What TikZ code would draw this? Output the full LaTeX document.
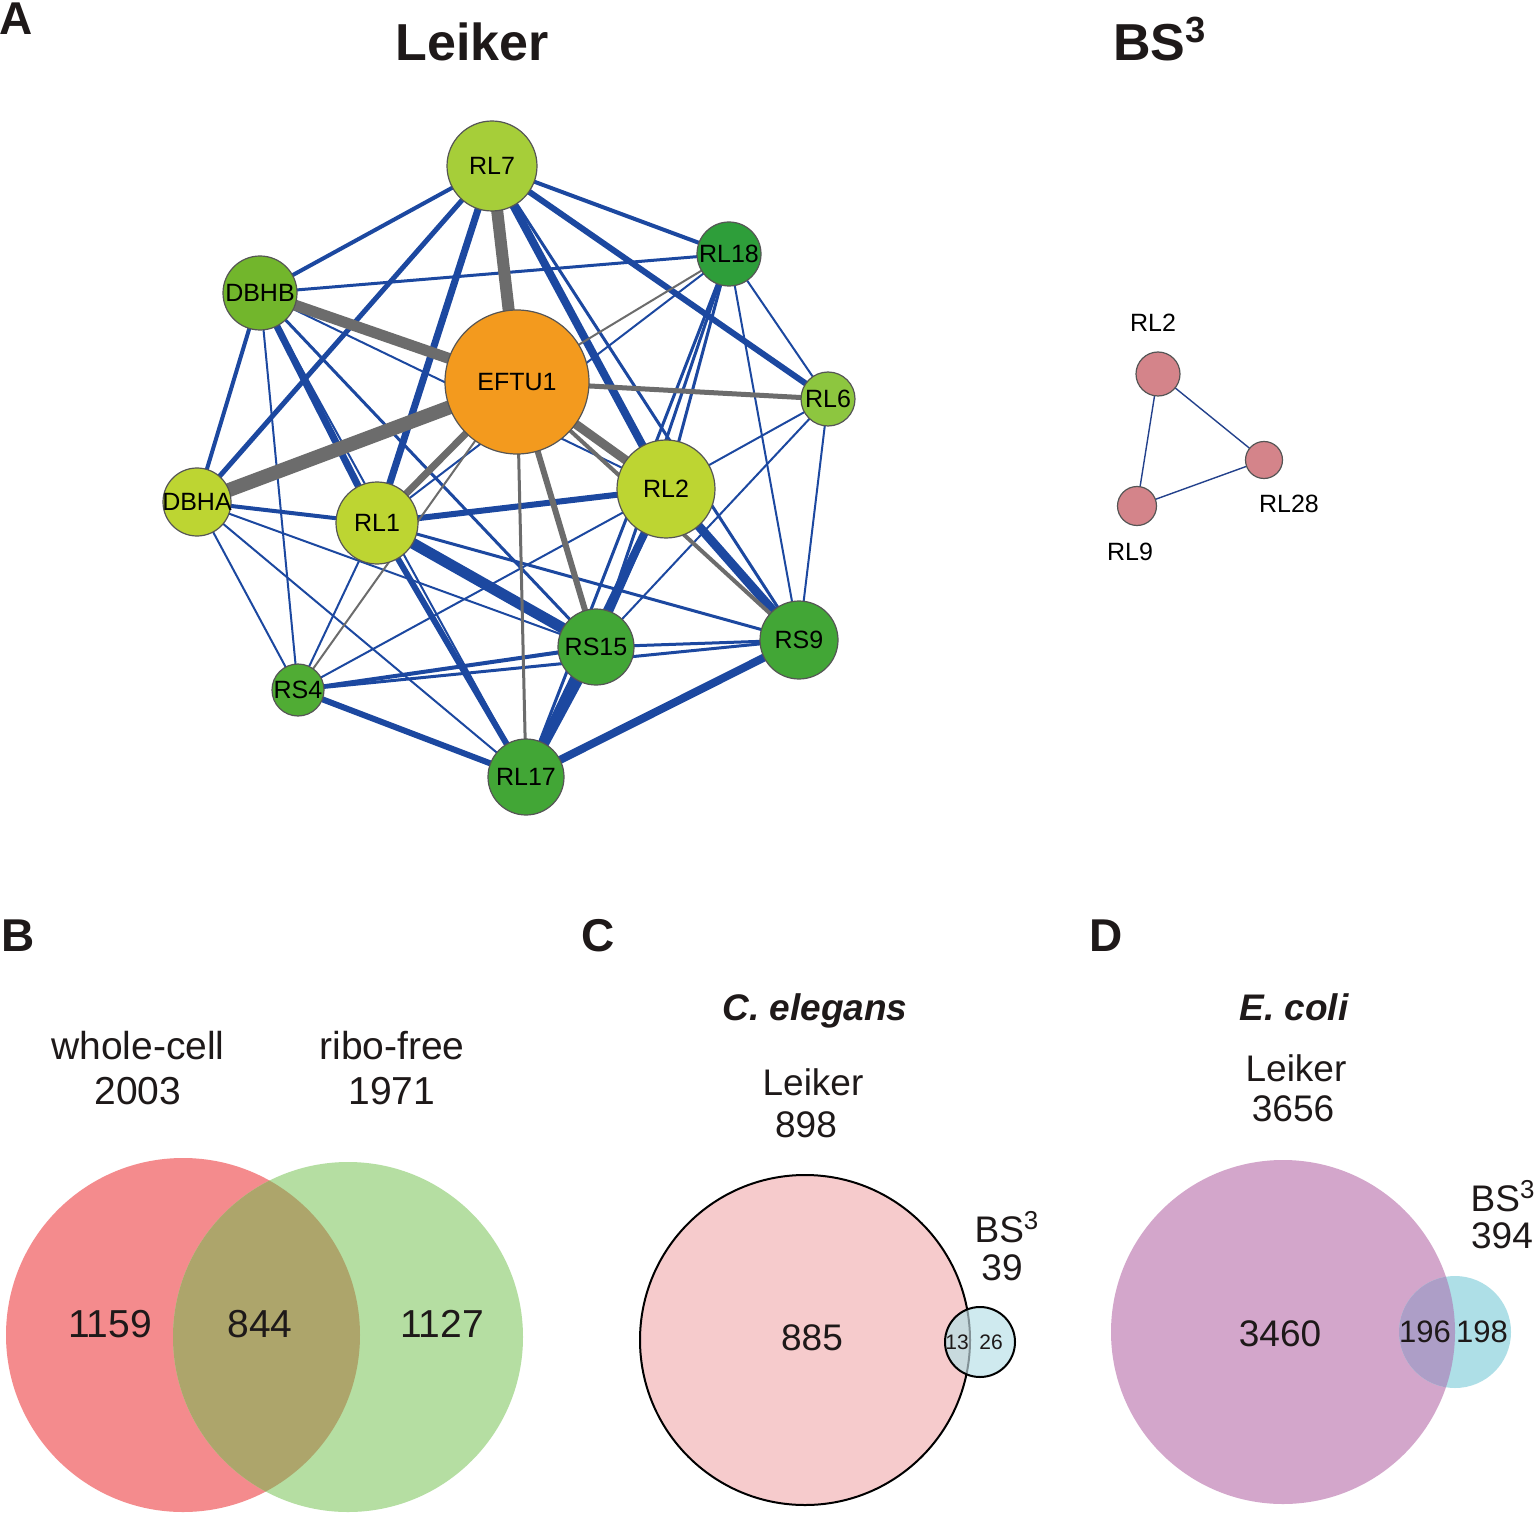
\documentclass[tikz,border=0pt]{standalone}
\usepackage{fontspec}
\setmainfont{Liberation Sans}
\usetikzlibrary{backgrounds}
\definecolor{eblue}{RGB}{28,72,160}
\definecolor{egray}{RGB}{108,108,108}
\definecolor{ndline}{RGB}{85,85,85}
\definecolor{cyg}{RGB}{166,206,57}
\definecolor{cmg}{RGB}{114,182,44}
\definecolor{corg}{RGB}{243,154,30}
\definecolor{cdg}{RGB}{46,158,58}
\definecolor{clg}{RGB}{141,198,63}
\definecolor{cyl}{RGB}{189,213,50}
\definecolor{cgr}{RGB}{66,166,54}
\definecolor{cgr2}{RGB}{80,172,52}
\definecolor{pinknode}{RGB}{212,132,138}
\definecolor{bsblue}{RGB}{35,65,140}
\definecolor{vred}{RGB}{244,139,141}
\definecolor{vgreen}{RGB}{181,222,162}
\definecolor{volive}{RGB}{173,165,107}
\definecolor{vpink}{RGB}{246,203,204}
\definecolor{vlblue}{RGB}{207,234,239}
\definecolor{vmix}{RGB}{200,218,222}
\definecolor{vmixline}{RGB}{130,145,150}
\definecolor{vpurple}{RGB}{211,166,203}
\definecolor{vcyan}{RGB}{174,223,231}
\definecolor{vpmix}{RGB}{173,158,199}
\definecolor{txt}{RGB}{30,25,25}
\begin{document}
\begin{tikzpicture}[x=0.5pt,y=-0.5pt,
  nd/.style={circle, draw=ndline, line width=0.6pt, inner sep=0pt},
  nlab/.style={font=\fontsize{12.5pt}{14pt}\selectfont, inner sep=0pt, text height=8.9pt, text depth=0pt, text=black},
  be/.style={draw=eblue, line width=#1},
  ge/.style={draw=egray, line width=#1},
  vt/.style={font=\fontsize{19.5pt}{23pt}\selectfont, inner sep=0pt, text height=14pt, text depth=0pt, text=txt},
  vtc/.style={font=\fontsize{18.5pt}{22pt}\selectfont, inner sep=0pt, text height=13.2pt, text depth=0pt, text=txt},
  vts/.style={font=\fontsize{15.5pt}{18pt}\selectfont, inner sep=0pt, text height=11.1pt, text depth=0pt, text=txt},
  ttl/.style={font=\bfseries\fontsize{26pt}{30pt}\selectfont, inner sep=0pt, text height=18.6pt, text depth=0pt, text=txt},
  plab/.style={font=\bfseries\fontsize{23pt}{27pt}\selectfont, inner sep=0pt, text height=16.5pt, text depth=0pt, text=txt},
  spec/.style={font=\bfseries\itshape\fontsize{18.5pt}{22pt}\selectfont, inner sep=0pt, text height=13.2pt, text depth=0pt, text=txt},
  sml/.style={font=\fontsize{10.5pt}{12pt}\selectfont, inner sep=0pt, text height=7.5pt, text depth=0pt, text=txt},
  bsnode/.style={circle, draw=ndline, line width=0.6pt, fill=pinknode, inner sep=0pt},
  bse/.style={draw=bsblue, line width=0.7pt}
]
\useasboundingbox (0,0) rectangle (1535,1513);

% ---------- panel A : Leiker network ----------
\node[nd, fill=cyg,  minimum size=45pt, label={[nlab]center:RL7}]   (RL7)   at (492,166) {};
\node[nd, fill=cmg,  minimum size=37pt, label={[nlab]center:DBHB}]  (DBHB)  at (260,293) {};
\node[nd, fill=corg, minimum size=72pt, label={[nlab]center:EFTU1}] (EFTU1) at (517,382) {};
\node[nd, fill=cdg,  minimum size=32pt, label={[nlab]center:RL18}]  (RL18)  at (729,254) {};
\node[nd, fill=clg,  minimum size=27pt, label={[nlab]center:RL6}]   (RL6)   at (828,399) {};
\node[nd, fill=cyl,  minimum size=49pt, label={[nlab]center:RL2}]   (RL2)   at (666,489) {};
\node[nd, fill=cyl,  minimum size=34pt, label={[nlab]center:DBHA}]  (DBHA)  at (197,502) {};
\node[nd, fill=cyl,  minimum size=41pt, label={[nlab]center:RL1}]   (RL1)   at (377,523) {};
\node[nd, fill=cgr2, minimum size=26pt, label={[nlab]center:RS4}]   (RS4)   at (298,690) {};
\node[nd, fill=cgr,  minimum size=38pt, label={[nlab]center:RS15}]  (RS15)  at (596,647) {};
\node[nd, fill=cgr,  minimum size=39pt, label={[nlab]center:RS9}]   (RS9)   at (799,640) {};
\node[nd, fill=cgr,  minimum size=38pt, label={[nlab]center:RL17}]  (RL17)  at (526,777) {};

\begin{scope}[on background layer]
\fill[white] (0,0) rectangle (1535,1513);
% blue edges
\draw[be=2pt]   (RL7.center) -- (DBHB.center);
\draw[be=2.5pt] (RL7.center) -- (DBHA.center);
\draw[be=3.5pt] (RL7.center) -- (RL1.center);
\draw[be=2pt]   (RL7.center) -- (RL18.center);
\draw[be=3pt]   (RL7.center) -- (RL6.center);
\draw[be=4pt]   (RL7.center) -- (RL2.center);
\draw[be=1.5pt] (RL7.center) -- (RS9.center);
\draw[be=1.5pt] (DBHB.center) -- (RL18.center);
\draw[be=2pt]   (DBHB.center) -- (DBHA.center);
\draw[be=1pt]   (DBHB.center) -- (RS4.center);
\draw[be=3.5pt] (DBHB.center) -- (RL1.center);
\draw[be=1.5pt] (DBHB.center) -- (RS15.center);
\draw[be=1pt]   (DBHB.center) -- (RL2.center);
\draw[be=1pt]   (DBHB.center) -- (RL17.center);
\draw[be=1pt]   (RL18.center) -- (RL1.center);
\draw[be=1pt]   (RL18.center) -- (RL6.center);
\draw[be=1pt]   (RL18.center) -- (RS9.center);
\draw[be=1.5pt] (RL18.center) -- (RL2.center);
\draw[be=1.5pt] (RL18.center) -- (RS15.center);
\draw[be=1.5pt] (RL18.center) -- (RL17.center);
\draw[be=1pt]   (RL6.center) -- (RL2.center);
\draw[be=1pt]   (RL6.center) -- (RS15.center);
\draw[be=1pt]   (RL6.center) -- (RS9.center);
\draw[be=3pt]   (RL2.center) -- (RL1.center);
\draw[be=1pt]   (RL2.center) -- (RS4.center);
\draw[be=4.5pt] (RL2.center) -- (RS9.center);
\draw[be=4pt]   (RL2.center) -- (RL17.center);
\draw[be=1.5pt] (RL2.center) -- (RS15.center);
\draw[be=2pt]   (RL1.center) -- (DBHA.center);
\draw[be=5.5pt] (RL1.center) -- (RS15.center);
\draw[be=1.5pt] (RL1.center) -- (RS9.center);
\draw[be=3pt]   (RL1.center) -- (RL17.center);
\draw[be=1pt]   (RL1.center) -- (RS4.center);
\draw[be=1pt]   (DBHA.center) -- (RS4.center);
\draw[be=1pt]   (DBHA.center) -- (RS15.center);
\draw[be=1pt]   (DBHA.center) -- (RL17.center);
\draw[be=2pt]   (RS4.center) -- (RS15.center);
\draw[be=1.5pt] (RS4.center) -- (RS9.center);
\draw[be=3pt]   (RS4.center) -- (RL17.center);
\draw[be=1.5pt] (RS15.center) -- (RS9.center);
\draw[be=5pt]   (RS15.center) -- (RL17.center);
\draw[be=4pt]   (RS9.center) -- (RL17.center);
% gray edges
\draw[ge=6pt]   (EFTU1.center) -- (RL7.center);
\draw[ge=5.5pt] (EFTU1.center) -- (DBHB.center);
\draw[ge=7pt]   (EFTU1.center) -- (DBHA.center);
\draw[ge=2.5pt] (EFTU1.center) -- (RL6.center);
\draw[ge=1pt]   (EFTU1.center) -- (RL18.center);
\draw[ge=3.5pt] (EFTU1.center) -- (RL1.center);
\draw[ge=1pt]   (EFTU1.center) -- (RS4.center);
\draw[ge=1.5pt] (EFTU1.center) -- (RL17.center);
\draw[ge=3pt]   (EFTU1.center) -- (RS15.center);
\draw[ge=4.5pt] (EFTU1.center) -- (RL2.center);
\draw[ge=2pt]   (EFTU1.center) -- (RS9.center);
\end{scope}

% titles
\node[plab] (labA) at (16,18) {A};
\node[ttl] (tLeiker) at (472,42) {Leiker};
\node[ttl] (tBS) at (1160,42) {BS\textsuperscript{3}};

% ---------- BS3 network ----------
\node[bsnode, minimum size=22pt] (bRL2)  at (1158,374) {};
\node[bsnode, minimum size=18.5pt] (bRL28) at (1264,460) {};
\node[bsnode, minimum size=19.5pt] (bRL9)  at (1137,506) {};
\begin{scope}[on background layer]
\draw[bse] (bRL2.center) -- (bRL28.center);
\draw[bse] (bRL2.center) -- (bRL9.center);
\draw[bse] (bRL9.center) -- (bRL28.center);
\end{scope}
\node[nlab] (tRL2)  at (1153,323) {RL2};
\node[nlab] (tRL28) at (1289,504) {RL28};
\node[nlab] (tRL9)  at (1130,552) {RL9};

% ---------- panel B ----------
\node[plab] (labB) at (18,935) {B};
\fill[vred] (183,1335) circle[radius=88.5pt];
\fill[vgreen] (348,1337) circle[radius=87.5pt];
\begin{scope}
\clip (183,1335) circle[radius=88.5pt];
\fill[volive] (348,1337) circle[radius=87.5pt];
\end{scope}
\node[vt] (tWC) at (138,1045) {whole-cell};
\node[vt] (tWCn) at (138,1090) {2003};
\node[vt] (tRF) at (392,1045) {ribo-free};
\node[vt] (tRFn) at (392,1090) {1971};
\node[vt] (n1159) at (110,1323) {1159};
\node[vt] (n844) at (260,1323) {844};
\node[vt] (n1127) at (442,1323) {1127};

% ---------- panel C ----------
\node[plab] (labC) at (598,935) {C};
\node[spec] (tCel) at (815,1007) {C. elegans};
\node[vtc] (tCL) at (813,1082) {Leiker};
\node[vtc] (tCLn) at (806,1124) {898};
\node[vtc] (tCB) at (1007,1229) {BS\textsuperscript{3}};
\node[vtc] (tCBn) at (1002,1267) {39};
\fill[vpink] (805,1340) circle[radius=82.5pt];
\draw[black, line width=1pt] (805,1340) circle[radius=82.5pt];
\fill[vlblue] (980,1342) circle[radius=17.5pt];
\begin{scope}
\clip (805,1340) circle[radius=82.5pt];
\fill[vmix] (980,1342) circle[radius=17.5pt];
\end{scope}
\begin{scope}
\clip (980,1342) circle[radius=17.5pt];
\draw[vmixline, line width=1pt] (805,1340) circle[radius=82.5pt];
\end{scope}
\draw[black, line width=1pt] (980,1342) circle[radius=17.5pt];
\node[vtc] (n885) at (812,1337) {885};
\node[sml] (n13) at (957,1342) {13};
\node[sml] (n26) at (991,1342) {26};

% ---------- panel D ----------
\node[plab] (labD) at (1106,935) {D};
\node[spec] (tEco) at (1294,1007) {E. coli};
\node[vtc] (tDL) at (1296,1068) {Leiker};
\node[vtc] (tDLn) at (1293,1108) {3656};
\node[vtc] (tDB) at (1503,1198) {BS\textsuperscript{3}};
\node[vtc] (tDBn) at (1502,1235) {394};
\fill[vpurple] (1283,1332) circle[radius=86pt];
\fill[vcyan] (1455,1332) circle[radius=28pt];
\begin{scope}
\clip (1283,1332) circle[radius=86pt];
\fill[vpmix] (1455,1332) circle[radius=28pt];
\end{scope}
\node[vtc] (n3460) at (1280,1333) {3460};
\node[vts] (n196) at (1425,1331) {196};
\node[vts] (n198) at (1482,1331) {198};
\end{tikzpicture}
\end{document}
